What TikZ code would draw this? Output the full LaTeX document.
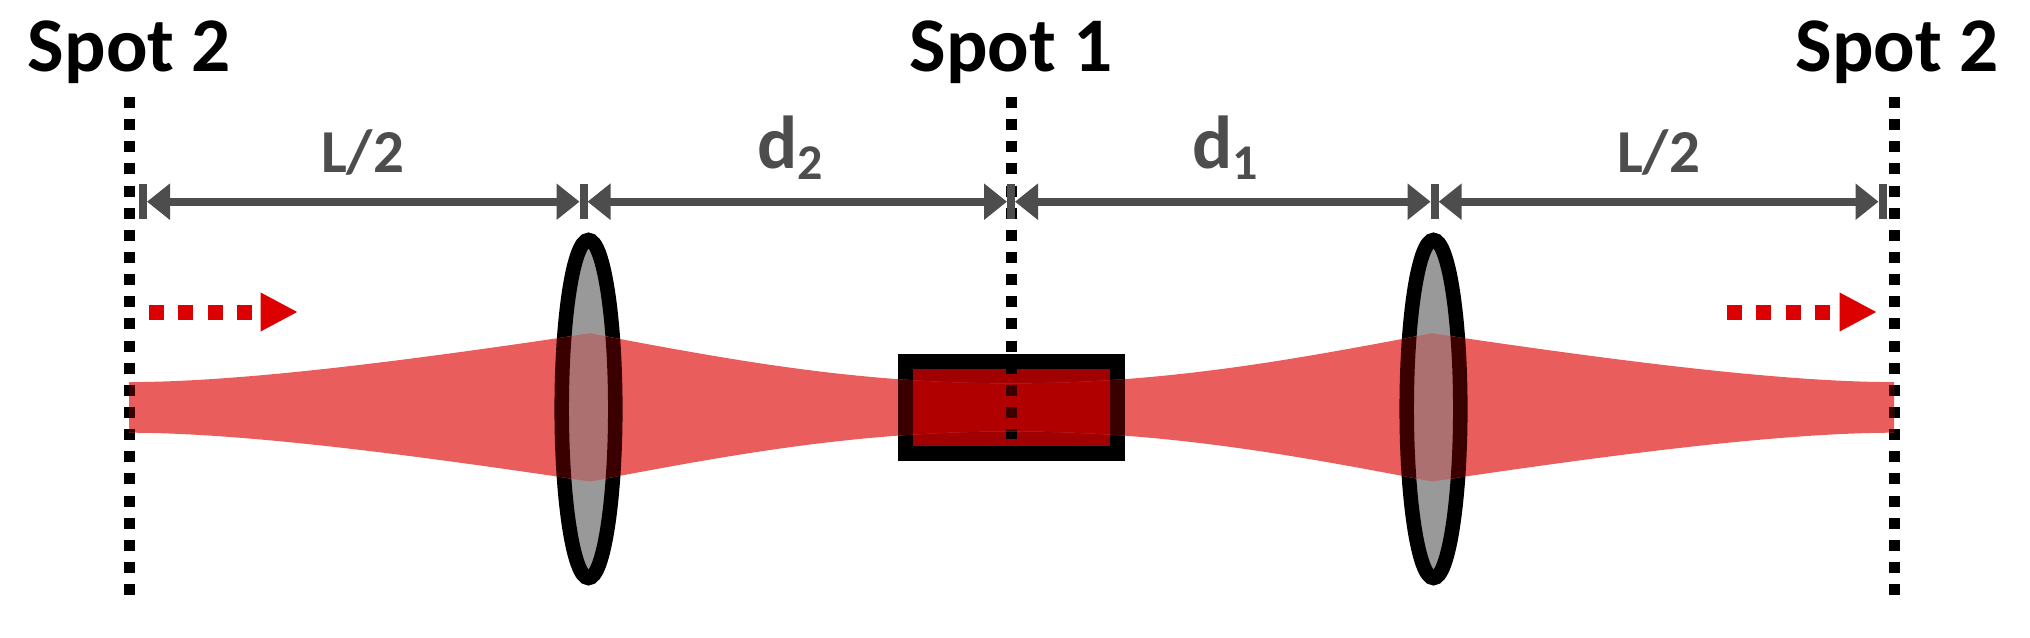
\documentclass[tikz,border=0pt]{standalone}
\usepackage{fontspec}
\setmainfont{Carlito}
\usetikzlibrary{arrows.meta}
\definecolor{dimgray}{HTML}{4D4D4D}
\definecolor{arrowred}{HTML}{DD0000}
\definecolor{beamred}{HTML}{E95D5D}
\definecolor{beamdark}{HTML}{3A0000}
\definecolor{lensgray}{HTML}{999999}
\definecolor{lensbeam}{HTML}{AD7070}
\definecolor{boxred}{HTML}{A00000}
\definecolor{boxbeam}{HTML}{B00000}
\newcommand{\beampath}{(129,382.1) .. controls (249,382.1) and (429,357.4) .. (590,333.4)
    .. controls (721,357.9) and (851,383.4) .. (1011,383.4)
    .. controls (1171,383.4) and (1301,357.9) .. (1432,333.4)
    .. controls (1594,357.4) and (1774,382.1) .. (1894,382.1)
    -- (1894,432.7) .. controls (1774,432.7) and (1594,457.4) .. (1432,481.4)
    .. controls (1301,456.9) and (1171,431.4) .. (1011,431.4)
    .. controls (851,431.4) and (721,456.9) .. (590,481.4)
    .. controls (429,457.4) and (249,432.7) .. (129,432.7) -- cycle}
\tikzset{
    spotline/.style={line width=8.25pt,dash pattern=on 8.25pt off 8.36pt},
    lens/.style={line width=10.9pt},
    crystal/.style={line width=11.25pt},
    dimline/.style={draw=dimgray,line width=6pt,shorten >=3pt,shorten <=3pt,
        {Triangle[length=17.25pt,width=26.25pt]}-{Triangle[length=17.25pt,width=26.25pt]}},
    dimbar/.style={draw=dimgray,line width=6pt},
    dirarrow/.style={draw=arrowred,line width=11.25pt,dash pattern=on 11pt off 11.1pt,
        -{Triangle[length=28pt,width=27pt]}},
    spotlabel/.style={anchor=base,inner sep=0pt,font=\fontsize{58}{62}\selectfont\bfseries},
    dimlabel/.style={anchor=base,inner sep=0pt,text=dimgray,font=\fontsize{45.75}{50}\selectfont\bfseries},
}
\newcommand{\distlabel}[1]{\fontsize{56.25}{60}\selectfont\bfseries d\raisebox{-8.25pt}{\fontsize{37.5}{40}\selectfont\bfseries #1}}
\begin{document}
\begin{tikzpicture}[x=0.75pt,y=0.75pt,yscale=-1,xscale=1]
    \useasboundingbox (0,0) rectangle (2030,638);
    % end points
    \coordinate (spotL) at (129.5,97);
    \coordinate (spotLend) at (129.5,596);
    \coordinate (spotC) at (1011,97);
    \coordinate (spotCend) at (1011,439);
    \coordinate (spotR) at (1894.7,97);
    \coordinate (spotRend) at (1894.7,596);
    \coordinate (lensL) at (588.5,409);
    \coordinate (lensR) at (1433.5,409);
    \coordinate (dimA) at (143,201.7);
    \coordinate (dimB) at (583.5,201.7);
    \coordinate (dimC) at (1011,201.7);
    \coordinate (dimD) at (1434.6,201.7);
    \coordinate (dimE) at (1882.5,201.7);
    \coordinate (dirLa) at (149,312);
    \coordinate (dirLb) at (298,312);
    \coordinate (dirRa) at (1727,312);
    \coordinate (dirRb) at (1877,312);
    % lenses, crystal, spot lines
    \foreach \lensname in {lensL,lensR}
        \draw [lens,fill=lensgray] (\lensname) ellipse [x radius=26.8,y radius=169];
    \draw [crystal,fill=boxred] (905,361.5) rectangle (1117,453.5);
    \draw [spotline] (spotL) -- (spotLend);
    \draw [spotline] (spotC) -- (spotCend);
    \draw [spotline] (spotR) -- (spotRend);
    % beam, with what lies under it
    \fill [beamred] \beampath;
    \begin{scope}
        \clip \beampath;
        \foreach \lensname in {lensL,lensR}
            \draw [lens,draw=beamdark,fill=lensbeam] (\lensname) ellipse [x radius=26.8,y radius=169];
        \draw [crystal,draw=beamdark,fill=boxbeam] (905,361.5) rectangle (1117,453.5);
        \draw [spotline,draw=beamdark] (spotL) -- (spotLend);
        \draw [spotline,draw=beamdark] (spotC) -- (spotCend);
        \draw [spotline,draw=beamdark] (spotR) -- (spotRend);
    \end{scope}
    % dimensions
    \draw [dimline] (dimA) -- (dimB);
    \draw [dimline] (dimB) -- (dimC);
    \draw [dimline] (dimC) -- (dimD);
    \draw [dimline] (dimD) -- (dimE);
    \foreach \dimname in {dimA,dimB,dimC,dimD,dimE}
        \draw [dimbar] (\dimname) ++(0,-17.5) -- ++(0,35);
    \draw [dirarrow] (dirLa) -- (dirLb);
    \draw [dirarrow] (dirRa) -- (dirRb);
    % labels
    \node [spotlabel] (labelL) at (129.5,71.7) {Spot 2};
    \node [spotlabel] (labelC) at (1011,71.7) {Spot 1};
    \node [spotlabel] (labelR) at (1897,71.7) {Spot 2};
    \node [dimlabel] (halfL) at (362.5,173) {L/2};
    \node [dimlabel] (halfR) at (1658.5,173) {L/2};
    \node [anchor=base,inner sep=0pt,text=dimgray] (distB) at (790,168.3) {\distlabel{2}};
    \node [anchor=base,inner sep=0pt,text=dimgray] (distA) at (1225,168.3) {\distlabel{1}};
\end{tikzpicture}
\end{document}
